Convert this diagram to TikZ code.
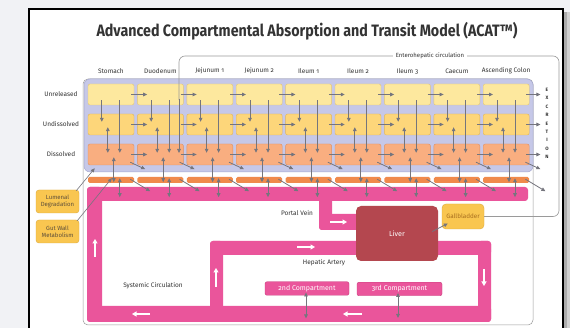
\documentclass[tikz,border=0pt]{standalone}
\usepackage{fontspec}
\setmainfont{Fira Sans}[Numbers=OldStyle]
\usetikzlibrary{arrows.meta,calc}
\definecolor{bgc}{HTML}{F1F2F5}
\definecolor{txt}{HTML}{333333}
\definecolor{lav}{HTML}{C6C8E8}
\definecolor{lavb}{HTML}{A6A9D0}
\definecolor{unrel}{HTML}{FDE89E}
\definecolor{unrelb}{HTML}{E2C777}
\definecolor{undis}{HTML}{FDD67A}
\definecolor{undisb}{HTML}{E0B65A}
\definecolor{dis}{HTML}{F9AE80}
\definecolor{disb}{HTML}{DE9165}
\definecolor{ent}{HTML}{F08A4C}
\definecolor{pinkc}{HTML}{EA559B}
\definecolor{pinkb}{HTML}{C83F7E}
\definecolor{liverc}{HTML}{B4474F}
\definecolor{gallc}{HTML}{F9C650}
\definecolor{gallb}{HTML}{DDA93A}
\definecolor{galltxt}{HTML}{A86E1E}
\definecolor{sidetxt}{HTML}{5E4F3A}
\definecolor{arrc}{HTML}{75757D}
\definecolor{linec}{HTML}{9A9A9A}
\tikzset{
  cell/.style={rectangle, rounded corners=2pt, minimum width=46pt, minimum height=21pt, inner sep=0pt, line width=0.4pt},
  stripbox/.style={rectangle, rounded corners=1.5pt, minimum width=46pt, minimum height=6pt, inner sep=0pt, fill=ent},
  arr/.style={draw=arrc, line width=0.8pt, -{Triangle[length=4pt,width=3.6pt]}},
  darr/.style={draw=arrc, line width=0.8pt, {Triangle[length=4pt,width=3.6pt]}-{Triangle[length=4pt,width=3.6pt]}},
  warr/.style={draw=white, line width=1.7pt, -{Triangle[length=4.5pt,width=5pt]}},
  lbl/.style={text=txt, font=\fontsize{6.5}{7}\selectfont, inner sep=0pt},
  sidebox/.style={rectangle, rounded corners=3pt, fill=gallc, draw=gallb, line width=0.4pt, minimum width=43pt, minimum height=23pt, inner sep=0pt, align=center, text=sidetxt, font=\fontsize{6}{6.8}\selectfont},
  compbox/.style={rectangle, rounded corners=2pt, fill=pinkc, draw=pinkb, line width=0.4pt, minimum height=13.5pt, inner sep=0pt, text=white, font=\fontsize{7}{7}\selectfont},
}
\begin{document}
\begin{tikzpicture}[x=1pt,y=-1pt]
\useasboundingbox (0,0) rectangle (570,328);
\clip (0,0) rectangle (570,328);
\fill[bgc] (0,0) rectangle (570,328);
\fill[gray!65] (563,12) rectangle (567,328);
\fill[gray!35] (567,12) rectangle (570,328);
\draw[line width=1.6pt, fill=white] (29,9) rectangle (563,340);

% title
\node[text=txt, font=\bfseries\fontsize{16.5}{18}\selectfont, inner sep=0pt] (title) at (307,31)
  {\scalebox{0.865}[1]{Advanced Compartmental Absorption and Transit Model (ACAT\texttrademark)}};

% outer container and lavender lumen area
\draw[draw=linec, line width=0.5pt, fill=white, rounded corners=5pt] (83,79) rectangle (533,325);
\node[rectangle, rounded corners=6pt, fill=lav, draw=lavb, line width=0.5pt, minimum width=449pt, minimum height=93pt, inner sep=0pt] (lav) at (308.5,125.5) {};

% row labels
\node[lbl] (rowu) at (61,94.5) {Unreleased};
\node[lbl] (rown) at (61,124.5) {Undissolved};
\node[lbl] (rowd) at (61,154) {Dissolved};

% column headers
\foreach \h [count=\i from 0] in {Stomach,Duodenum,Jejunum 1,Jejunum 2,Ileum 1,Ileum 2,Ileum 3,Caecum,Ascending Colon} {
  \pgfmathsetmacro\L{88+49.4*\i}
  \node[lbl] (h\i) at (\L+23,71) {\h};
}

% pink circulation
\begin{scope}[fill=pinkc, rounded corners=3pt]
\fill (87,187) rectangle (528,201);
\fill (87,187) rectangle (102,322);
\fill (87,306) rectangle (491,322);
\fill (478,241) rectangle (491,322);
\fill (210,241) rectangle (491,255);
\fill (210,241) rectangle (223,312);
\fill (319,195) rectangle (332,230);
\fill (319,214) rectangle (362,230);
\end{scope}

% cells
\foreach \i in {0,...,8} {
  \pgfmathsetmacro\L{88+49.4*\i}
  \node[cell, fill=unrel, draw=unrelb] (u\i) at (\L+23,94.5) {};
  \node[cell, fill=undis, draw=undisb] (n\i) at (\L+23,124.5) {};
  \node[cell, fill=dis, draw=disb] (d\i) at (\L+23,154.5) {};
  \node[stripbox] (e\i) at (\L+23,180) {};
}

% in-column arrows
\foreach \i in {0,...,8} {
  \draw[arr] ($(u\i.south west)+(14,-5)$) -- ($(n\i.north west)+(14,8)$);
  \draw[darr] ($(n\i.south west)+(20,-8)$) -- ($(d\i.north west)+(20,9)$);
  \draw[arr] ($(u\i.south west)+(32,-5)$) -- ($(d\i.north west)+(32,9)$);
  \draw[darr] ($(d\i.south west)+(26,-8)$) -- ($(e\i.south west)+(26,-1)$);
  \draw[darr] ($(e\i.south west)+(32,-5)$) -- ($(e\i.south west)+(32,14)$);
  \draw[arr] ($(d\i.south east)+(-4,-3)$) -- ($(d\i.south east)+(11,4)$);
  \draw[arr] ($(e\i.south east)+(-4,-4)$) -- ($(e\i.south east)+(16,8)$);
}
% transit arrows
\foreach \i [evaluate=\i as \j using int(\i+1)] in {0,...,7} {
  \draw[arr] ($(u\i.east)+(-3,0)$) -- ($(u\j.west)+(10,0)$);
  \draw[arr] ($(n\i.east)+(-3,0)$) -- ($(n\j.west)+(10,0)$);
  \draw[arr] ($(d\i.east)+(-3,0)$) -- ($(d\j.west)+(10,0)$);
}
% excretion
\node[text=txt, font=\bfseries\fontsize{4.8}{8.4}\selectfont, align=center, inner sep=0pt] (exc) at (547,123.5) {E\\X\\C\\R\\E\\T\\I\\O\\N};
\draw[arr] ($(u8.east)+(-3,0)$) -- ($(u8.east)+(11,0)$);
\draw[arr] ($(n8.east)+(-3,0)$) -- ($(n8.east)+(11,0)$);
\draw[arr] ($(d8.east)+(-3,0)$) -- ($(d8.east)+(11,0)$);

% side boxes
\node[sidebox] (lum) at (57.5,201.5) {Lumenal\\Degradation};
\node[sidebox] (gut) at (57.5,231.5) {Gut Wall\\Metabolism};
\draw[arr, line width=0.6pt] ($(lum.north east)+(-3,1)$) -- ($(lav.south west)+(11,-4)$);
\draw[arr, line width=0.6pt] ($(gut.north east)+(-2,1)$) -- ($(e0.south west)+(24,-5)$);

% liver, gallbladder
\node[rectangle, rounded corners=5pt, fill=liverc, minimum width=82pt, minimum height=55pt, inner sep=0pt, text=white, font=\fontsize{7.2}{8}\selectfont] (liver) at (397,233.5) {Liver};
\node[rectangle, rounded corners=4pt, fill=gallc, draw=gallb, line width=0.4pt, minimum width=42pt, minimum height=25pt, inner sep=0pt, text=galltxt, font=\fontsize{6.3}{7}\selectfont] (gb) at (463,216.5) {Gallbladder};
\draw[arr] ($(liver.east)+(-6,-2)$) -- ($(gb.west)+(6,7)$);

% compartments
\node[compbox, minimum width=84pt] (c2) at (307,288.5) {2nd Compartment};
\node[compbox, minimum width=85pt] (c3) at (399.5,289) {3rd Compartment};
\draw[darr] ($(c2.south)+(-1,-3)$) -- ($(c2.south)+(-1,23)$);
\draw[darr] ($(c3.south)+(-1.5,-3)$) -- ($(c3.south)+(-1.5,22)$);

% flow labels
\node[lbl] (pvl) at (297,213) {Portal Vein};
\node[lbl] (hal) at (324,263) {Hepatic Artery};
\node[lbl] (scl) at (153,286) {Systemic Circulation};

% white flow arrows
\draw[warr] (95,257) -- (95,239);
\draw[warr] (150,314) -- (132,314);
\draw[warr] (216,287) -- (216,268);
\draw[warr] (297,247) -- (315,247);
\draw[warr] (484,269) -- (484,286);
\draw[warr] (362,314) -- (343,314);
\draw[warr] (330,222) -- (347,222);

% enterohepatic circulation
\coordinate (entend) at (179,153);
\draw[draw=linec, line width=0.6pt, rounded corners=6pt] (gb.east) -- (559,216.5) -- (559,56) -- (179,56) -- (179,100);
\draw[arr, line width=0.6pt] (179,99) -- (entend);
\node[lbl, fill=white, inner xsep=3pt, inner ysep=1pt, font=\fontsize{6}{7}\selectfont] (entl) at (430,56) {Enterohepatic circulation};
\end{tikzpicture}
\end{document}
